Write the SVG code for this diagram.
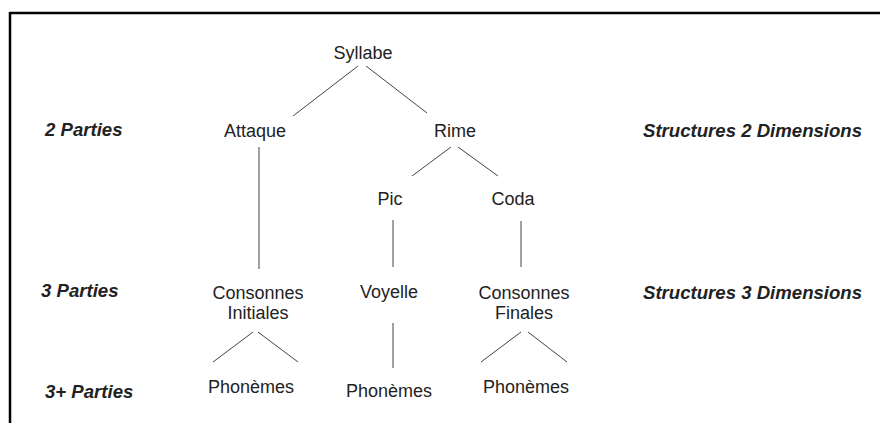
<svg xmlns="http://www.w3.org/2000/svg" width="880" height="423" viewBox="0 0 880 423">
<style>
.n{font-family:"Liberation Sans",Arial,sans-serif;font-size:18px;fill:#222;text-anchor:middle}
.l{font-family:"Liberation Sans",Arial,sans-serif;font-size:18.6px;fill:#222;font-weight:bold;font-style:italic}
.c line{stroke:#444;stroke-width:1}
</style>
<rect width="880" height="423" fill="#fff"/>
<g id="frame" stroke="#000" stroke-width="2.5" fill="none">
<line x1="10" y1="13" x2="880" y2="13"/>
<line x1="10" y1="12" x2="10" y2="423"/>
</g>
<g id="labels">
<text class="l" x="45" y="136">2 Parties</text>
<text class="l" x="41" y="297">3 Parties</text>
<text class="l" x="45" y="398">3+ Parties</text>
<text class="l" x="643" y="137">Structures 2 Dimensions</text>
<text class="l" x="643" y="299">Structures 3 Dimensions</text>
</g>
<g id="syllabe"><text class="n" x="363" y="59">Syllabe</text></g>
<g id="attaque"><text class="n" x="255" y="137">Attaque</text></g>
<g id="rime"><text class="n" x="455" y="137">Rime</text></g>
<g id="pic"><text class="n" x="390" y="205">Pic</text></g>
<g id="coda"><text class="n" x="513" y="205">Coda</text></g>
<g id="consonnes-initiales"><text class="n" x="258" y="299">Consonnes</text><text class="n" x="258" y="319">Initiales</text></g>
<g id="voyelle"><text class="n" x="389" y="298">Voyelle</text></g>
<g id="consonnes-finales"><text class="n" x="524" y="299">Consonnes</text><text class="n" x="524" y="319">Finales</text></g>
<g id="phonemes-1"><text class="n" x="251" y="393">Phonèmes</text></g>
<g id="phonemes-2"><text class="n" x="389" y="397">Phonèmes</text></g>
<g id="phonemes-3"><text class="n" x="526" y="393">Phonèmes</text></g>
<g id="connectors" class="c">
<line x1="358" y1="66" x2="293" y2="116"/>
<line x1="366" y1="66" x2="427" y2="113"/>
<line x1="451" y1="147" x2="412" y2="176"/>
<line x1="458" y1="147" x2="498" y2="176"/>
<line x1="259" y1="147" x2="259" y2="269"/>
<line x1="393" y1="220" x2="393" y2="267"/>
<line x1="521" y1="221" x2="521" y2="267"/>
<line x1="393" y1="323" x2="393" y2="368"/>
<line x1="253" y1="332" x2="213" y2="362"/>
<line x1="258" y1="332" x2="298" y2="362"/>
<line x1="521" y1="332" x2="481" y2="362"/>
<line x1="528" y1="332" x2="567" y2="362"/>
</g>
</svg>
